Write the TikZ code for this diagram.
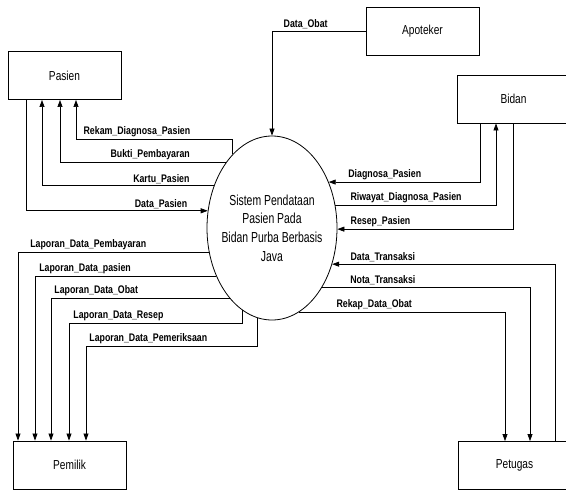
\documentclass[tikz,border=0pt]{standalone}
\usepackage{fontspec}
\setmainfont{Liberation Sans}[FakeStretch=0.78]
\newfontfamily\lblfont{Liberation Sans}[FakeStretch=0.8]
\newfontfamily\procfont{Liberation Sans}[FakeStretch=0.72]
\usetikzlibrary{shapes.geometric, arrows.meta}

\begin{document}
\begin{tikzpicture}[
  x=1pt, y=-1pt,
  ent/.style = {
    rectangle, draw, line width=0.9pt,
    minimum width=113pt, minimum height=48pt,
    font=\fontsize{13}{15}\selectfont
  },
  proc/.style = {
    ellipse, draw, line width=0.8pt,
    minimum width=130pt, minimum height=184pt, inner sep=0pt
  },
  arr/.style = {-{Triangle[length=7pt, width=5pt]}, line width=0.7pt},
  lbl/.style = {font=\lblfont\fontsize{11}{12}\selectfont\bfseries, inner sep=2pt}
]
  \clip (0,0) rectangle (566,491);

  \node[proc] (sys) at (272,228) {};
  \node[align=center, font=\procfont\fontsize{14.5}{18.7}\selectfont] (sysname) at (sys)
    {Sistem Pendataan\\Pasien Pada\\Bidan Purba Berbasis\\Java};

  \node[ent] (pas) at (64.5,75.5)  {Pasien};
  \node[ent] (apo) at (422.5,31)   {Apoteker};
  \node[ent] (bid) at (513.5,99)   {Bidan};
  \node[ent] (pem) at (69.5,465)   {Pemilik};
  \node[ent] (pet) at (514.5,465.5) {Petugas};

  % Apoteker
  \draw[arr] (apo.west) -| (sys.north)
    node[lbl, above, pos=0.32] {Data\_Obat};

  % Pasien
  \draw[arr] (sys.118.9) -- ++(0,-15) -| ([xshift=11.5pt]pas.south)
    node[lbl, above left, pos=0.128] {Rekam\_Diagnosa\_Pasien};
  \draw[arr] (sys.125.3) -| ([xshift=-4.5pt]pas.south)
    node[lbl, above left, pos=0.102] {Bukti\_Pembayaran};
  \draw[arr] (sys.144.8) -| ([xshift=-22.5pt]pas.south)
    node[lbl, above left, pos=0.064] {Kartu\_Pasien};
  \draw[arr] ([xshift=-38.5pt]pas.south) |- (sys.165.1)
    node[lbl, above left, pos=0.95] {Data\_Pasien};

  % Bidan
  \draw[arr] ([xshift=-33.5pt]bid.south) |- (sys.39.3)
    node[lbl, above right, pos=0.943] {Diagnosa\_Pasien};
  \draw[arr] (sys.20.1) -| ([xshift=-17.5pt]bid.south)
    node[lbl, above right, pos=0.04] {Riwayat\_Diagnosa\_Pasien};
  \draw[arr] (bid.south) |- (sys.359.1)
    node[lbl, above right, pos=0.969] {Resep\_Pasien};

  % Petugas
  \draw[arr] ([xshift=40.5pt]pet.north) |- (sys.329.8)
    node[lbl, above right, pos=0.964] {Data\_Transaksi};
  \draw[arr] (sys.310.2) -| ([xshift=15.5pt]pet.north)
    node[lbl, above right, pos=0.0625] {Nota\_Transaksi};
  \draw[arr] (sys.288.6) -| ([xshift=-9.5pt]pet.north)
    node[lbl, above right, pos=0.085] {Rekap\_Data\_Obat};

  % Pemilik
  \draw[arr] (sys.201.8) -| ([xshift=-51.5pt]pem.north)
    node[lbl, above right, pos=0.474] {Laporan\_Data\_Pembayaran};
  \draw[arr] (sys.221.7) -| ([xshift=-34.5pt]pem.north)
    node[lbl, above right, pos=0.4945] {Laporan\_Data\_pasien};
  \draw[arr] (sys.239.8) -| ([xshift=-18.5pt]pem.north)
    node[lbl, above right, pos=0.497] {Laporan\_Data\_Obat};
  \draw[arr] (sys.250.6) -- ++(0,13) -| ([xshift=-0.5pt]pem.north)
    node[lbl, above right, pos=0.494] {Laporan\_Data\_Resep};
  \draw[arr] (sys.261.1) -- ++(0,28) -| ([xshift=16.5pt]pem.north)
    node[lbl, above right, pos=0.497] {Laporan\_Data\_Pemeriksaan};
\end{tikzpicture}
\end{document}
